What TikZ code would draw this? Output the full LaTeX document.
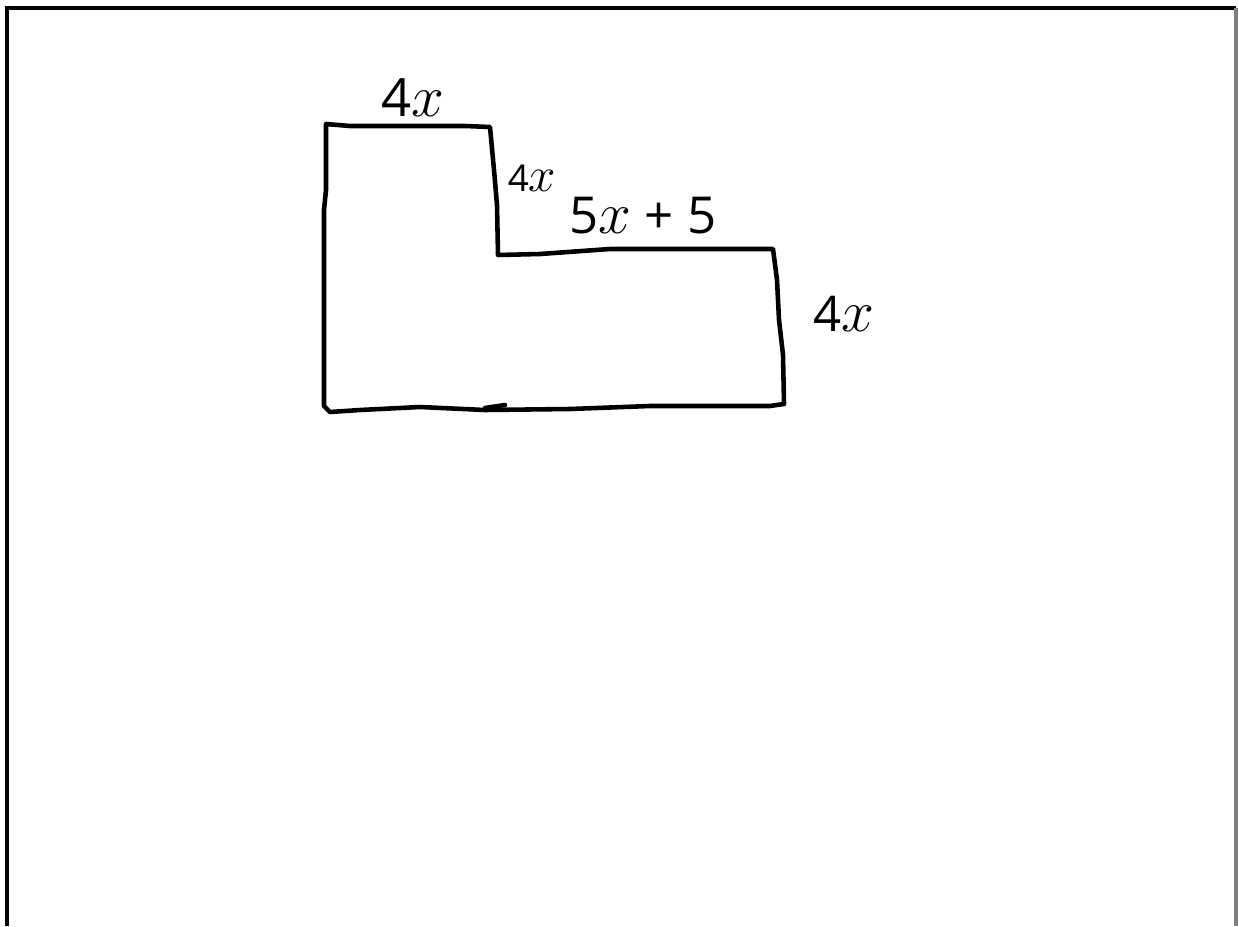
\documentclass[tikz,border=0pt]{standalone}
\usepackage{fontspec}
\setmainfont{Open Sans}
\newcommand{\bigx}{\scalebox{1.35}{$x$}}
\begin{document}
\begin{tikzpicture}[x=0.02cm, y=-0.02cm]
    \tikzstyle{frame} = [line width=2pt]
    \tikzstyle{outline} = [line width=2.6pt, line join=round, line cap=round]
    \tikzstyle{size} = [inner sep=0pt, font=\fontsize{30}{32}\selectfont]

    \useasboundingbox (0,0) rectangle (1239,926);

    % page frame
    \draw [frame] (7,926) -- (7,8) -- (1236,8);
    \draw [frame, gray] (1236,8) -- (1236,926);

    % the L shape
    \draw [outline] (326,124) -- (350,126) -- (465,126) -- (490,127)
        -- (494,170) -- (497,205) -- (498,255)
        -- (540,254) -- (610,249) -- (773,249)
        -- (777,280) -- (779,320) -- (783,355) -- (784,404)
        -- (770,406) -- (650,406) -- (570,409) -- (485,410)
        -- (420,407) -- (360,410) -- (330,412) -- (324,406)
        -- (324,210) -- (326,190) -- cycle;
    \draw [outline] (485,408) -- (505,405);

    % side lengths
    \node [size] (top) at (413,98) {4\bigx};
    \node [size, font=\fontsize{21}{23}\selectfont] (step) at (532,178) {4\bigx};
    \node [size, font=\fontsize{29}{31}\selectfont] (middle) at (643,216) {5\bigx\ + 5};
    \node [size, font=\fontsize{28}{30}\selectfont] (right) at (844,314) {4\bigx};
\end{tikzpicture}
\end{document}
